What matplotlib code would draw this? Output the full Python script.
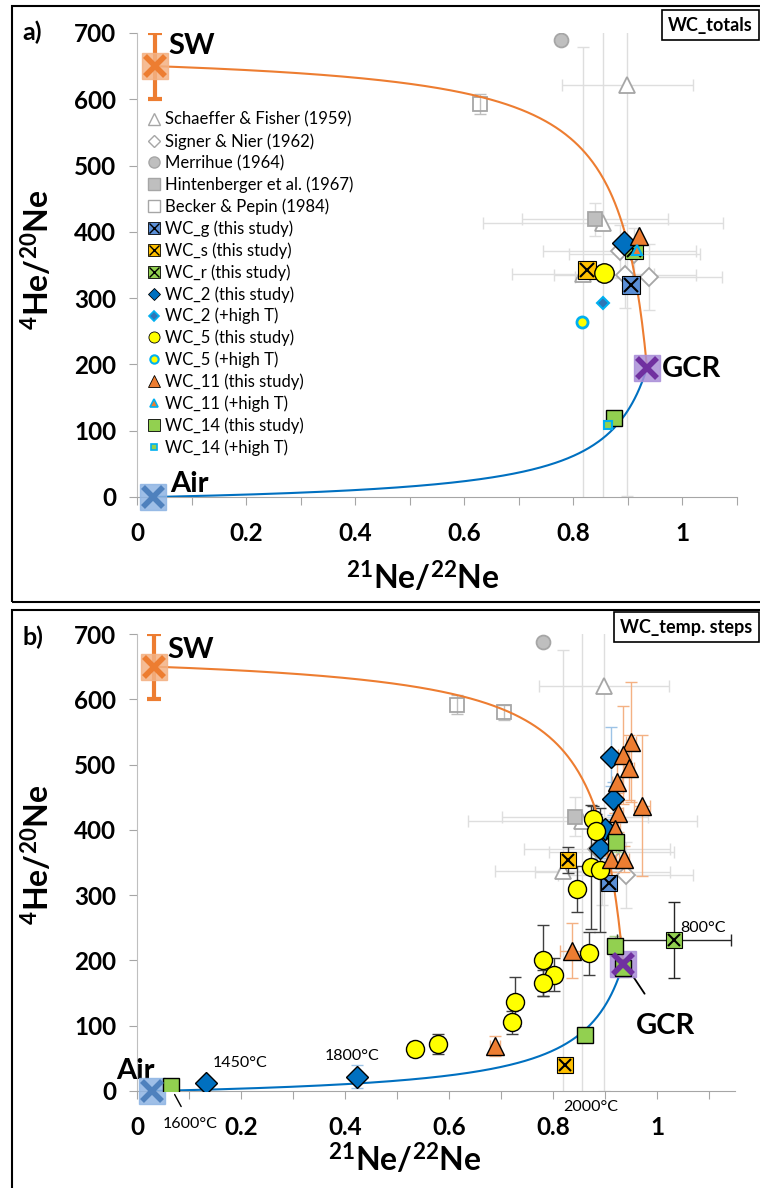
import numpy as np
import matplotlib.pyplot as plt
from matplotlib.lines import Line2D
from matplotlib.patches import Rectangle

plt.rcParams['font.family'] = ['Lato', 'DejaVu Sans']
plt.rcParams['mathtext.fontset'] = 'custom'
plt.rcParams['mathtext.rm'] = 'Lato:bold'
plt.rcParams['mathtext.bf'] = 'Lato:bold'
plt.rcParams['mathtext.default'] = 'rm'

# endmembers: 21Ne/22Ne, 4He/20Ne, 20Ne/22Ne
sw = [0.033, 650, 13.8]
air = [0.029, 0, 9.8]
gcr = [0.935, 195, 0.8]
sw_err = 50

# ---- panel a: totals ----
# literature
a_sf_x, a_sf_y = [0.899, 0.855, 0.817], [621, 413, 336]
a_sf_xe, a_sf_ye = [0.12, 0.22, 0.13], [620, 420, 343]
a_sn_x, a_sn_y = [0.885, 0.912, 0.895, 0.938], [371, 366, 335, 332]
a_sn_xe, a_sn_ye = [0.14, 0.12, 0.13, 0.135], [40, 40, 50, 50]
a_me_x, a_me_y = [0.778], [689]
a_hi_x, a_hi_y = [0.840], [419]
a_hi_xe, a_hi_ye = [0.134], [25]
a_bp_x, a_bp_y = [0.629], [593]
a_bp_ye = [15]
# this study
a_wcg = ([0.906], [320])
a_wcs = ([0.825], [342])
a_wcr = ([0.912], [372])
a_wc2 = ([0.892], [383])
a_wc2h = ([0.855], [293])
a_wc5 = ([0.856], [338])
a_wc5h = ([0.815], [264])
a_wc11 = ([0.921], [393])
a_wc11h = ([0.916], [372])
a_wc14 = ([0.875], [119])
a_wc14h = ([0.864], [109])

# ---- panel b: temperature steps ----
b_sf_x, b_sf_y = [0.898, 0.856, 0.819], [620, 414, 337]
b_sf_xe, b_sf_ye = [0.125, 0.22, 0.13], [620, 420, 338]
b_sn_x, b_sn_y = [0.885, 0.912, 0.895, 0.940], [371, 366, 335, 331]
b_sn_xe, b_sn_ye = [0.14, 0.12, 0.13, 0.13], [40, 40, 50, 50]
b_me_x, b_me_y = [0.781], [688]
b_hi_x, b_hi_y = [0.842], [420]
b_hi_xe, b_hi_ye = [0.14], [30]
b_bp_x, b_bp_y = [0.615, 0.706], [592, 580]
b_bp_ye = [15, 12]

b_wcg_x, b_wcg_y = [0.908], [318]
b_wcs_x, b_wcs_y = [0.829, 0.823], [354, 40]
b_wcs_ye = [20, 8]
b_wcr_x, b_wcr_y = [1.033], [231]
b_wcr_xe, b_wcr_ye = [0.11], [58]
b_wc2_x = [0.911, 0.916, 0.900, 0.890, 0.133, 0.423]
b_wc2_y = [512, 448, 401, 372, 12, 22]
b_wc2_ye = [45, 25, 15, 15, 5, 18]
b_wc5_x = [0.877, 0.883, 0.873, 0.891, 0.846, 0.869, 0.781, 0.802, 0.781, 0.727, 0.721, 0.535, 0.579]
b_wc5_y = [417, 399, 343, 339, 309, 211, 200, 178, 166, 137, 105, 65, 72]
b_wc5_ye = [20, 25, 95, 95, 35, 33, 54, 25, 20, 38, 18, 10, 15]
b_wc11_x = [0.950, 0.935, 0.946, 0.923, 0.971, 0.925, 0.919, 0.911, 0.937, 0.837, 0.688]
b_wc11_y = [534, 514, 495, 473, 437, 426, 401, 356, 356, 215, 69]
b_wc11_ye = [92, 75, 50, 40, 108, 30, 25, 20, 20, 42, 15]
b_wc11_xe = [0.01, 0.01, 0.01, 0.01, 0.015, 0.01, 0.01, 0.01, 0.01, 0.024, 0.01]
b_wc14_x = [0.921, 0.919, 0.935, 0.862, 0.065]
b_wc14_y = [381, 222, 189, 86, 8]
b_wc14_ye = [15, 15, 15, 8, 4]

step_labels = ['1450°C', '1800°C', '1600°C', '2000°C', '800°C']

legend_labels = ['Schaeffer & Fisher (1959)', 'Signer & Nier (1962)', 'Merrihue (1964)',
                 'Hintenberger et al. (1967)', 'Becker & Pepin (1984)',
                 'WC_g (this study)', 'WC_s (this study)', 'WC_r (this study)',
                 'WC_2 (this study)', 'WC_2 (+high T)', 'WC_5 (this study)', 'WC_5 (+high T)',
                 'WC_11 (this study)', 'WC_11 (+high T)', 'WC_14 (this study)', 'WC_14 (+high T)']

C_BLUE = '#5B8FD6'
C_GOLD = '#FFC000'
C_GREEN = '#92D050'
C_DBLUE = '#0070C0'
C_CYAN = '#00B0F0'
C_ORANGE = '#ED7D31'
C_LGREY = '#DEDEDE'
C_GREY = '#A6A6A6'


def mixing(a, b):
    # two-component mixing hyperbola
    f = np.linspace(0, 1, 400)
    x = f * a[0] + (1 - f) * b[0]
    y = (f * a[2] * a[1] + (1 - f) * b[2] * b[1]) / (f * a[2] + (1 - f) * b[2])
    return x, y


def xsq(ax, x, y, color, ms=12, mew=1.5, z=5):
    ax.plot(x, y, 's', ms=ms, mfc=color, mec='black', mew=0.8, zorder=z, ls='none')
    ax.plot(x, y, 'x', ms=ms * 0.8, mec='black', mew=mew, zorder=z + 0.1, ls='none')


def endmembers(ax):
    ax.errorbar([sw[0]], [sw[1]], yerr=sw_err, fmt='none', ecolor=C_ORANGE, elinewidth=3,
                capsize=5, capthick=3, zorder=6)
    for p, fc, xc in [(sw, '#F4B183', C_ORANGE), (air, '#8EB4E3', '#4F81BD'),
                      (gcr, '#A98ED8', '#7030A0')]:
        ax.plot(p[0], p[1], 's', ms=19, mfc=fc, mec=fc, alpha=0.85, zorder=7, clip_on=False)
        ax.plot(p[0], p[1], 'x', ms=15, mec=xc, mew=4, zorder=8, clip_on=False)
    xo, yo = mixing(sw, gcr)
    ax.plot(xo, yo, color=C_ORANGE, lw=1.5, zorder=4)
    xb, yb = mixing(air, gcr)
    ax.plot(xb, yb, color=C_DBLUE, lw=1.5, zorder=4)


def literature(ax, sf, sn, me, hi, bp):
    eb = dict(fmt='none', ecolor=C_LGREY, elinewidth=1, capsize=4, zorder=1)
    ax.errorbar(sf[0], sf[1], xerr=sf[2], yerr=sf[3], **eb)
    ax.errorbar(sn[0], sn[1], xerr=sn[2], yerr=sn[3], **eb)
    ax.errorbar(hi[0], hi[1], xerr=hi[2], yerr=hi[3], **eb)
    ax.errorbar(bp[0], bp[1], yerr=bp[2], **dict(eb, ecolor='#BFBFBF'))
    ax.plot(sf[0], sf[1], '^', ms=11, mfc='white', mec=C_GREY, mew=1.3, ls='none', zorder=2)
    ax.plot(sn[0], sn[1], 'D', ms=9, mfc='white', mec=C_GREY, mew=1.3, ls='none', zorder=2)
    ax.plot(me[0], me[1], 'o', ms=10, mfc='#BFBFBF', mec=C_GREY, mew=1.3, ls='none', zorder=2)
    ax.plot(hi[0], hi[1], 's', ms=10, mfc='#BFBFBF', mec=C_GREY, mew=1.3, ls='none', zorder=2)
    ax.plot(bp[0], bp[1], 's', ms=10, mfc='none', mec=C_GREY, mew=1.3, ls='none', zorder=2)


def style_axes(ax, xmax, xlab_pos, ylab_pos):
    ax.set_xlim(0, xmax)
    ax.set_ylim(0, 700)
    for s in ['top', 'right']:
        ax.spines[s].set_visible(False)
    ax.spines['left'].set_color('#BFBFBF')
    ax.spines['bottom'].set_color(C_GREY)
    ax.set_yticks(np.arange(0, 701, 100))
    xt = np.round(np.arange(0, 1.11, 0.1), 1)
    ax.set_xticks(xt)
    ax.set_xticklabels(['0' if v == 0 else ('1' if v == 1 else ('%.1f' % v if round(v * 10) % 2 == 0 else ''))
                        for v in xt])
    ax.tick_params(axis='both', colors=C_GREY, labelcolor='black', labelsize=17.5, length=6)
    ax.tick_params(axis='y', pad=9)
    ax.tick_params(axis='x', pad=12)
    for lab in ax.get_xticklabels() + ax.get_yticklabels():
        lab.set_fontweight('bold')
    ax.set_xlabel('$^{21}$Ne/$^{22}$Ne', fontsize=23, fontweight='bold')
    ax.set_ylabel('$^{4}$He/$^{20}$Ne', fontsize=23, fontweight='bold')
    ax.xaxis.set_label_coords(*xlab_pos)
    ax.yaxis.set_label_coords(*ylab_pos)


fig = plt.figure(figsize=(7.6, 11.88), dpi=100)
W, H = 760, 1188

# panel frames
fig.patches.append(Rectangle((12 / W, 1 - 602 / H), 1.0, 596 / H, transform=fig.transFigure,
                             fill=False, ec='black', lw=1.5))
fig.patches.append(Rectangle((12 / W, -0.05), 1.0, 1 - 610 / H + 0.05, transform=fig.transFigure,
                             fill=False, ec='black', lw=1.5))

# ---------------- panel a ----------------
ax1 = fig.add_axes([137 / W, 1 - 497 / H, 600 / W, 464 / H])
style_axes(ax1, 1.1, (0.477, -0.135), (-0.137, 0.511))
literature(ax1, (a_sf_x, a_sf_y, a_sf_xe, a_sf_ye), (a_sn_x, a_sn_y, a_sn_xe, a_sn_ye),
           (a_me_x, a_me_y), (a_hi_x, a_hi_y, a_hi_xe, a_hi_ye), (a_bp_x, a_bp_y, a_bp_ye))
endmembers(ax1)
xsq(ax1, *a_wcg, C_BLUE, ms=13)
xsq(ax1, *a_wcs, C_GOLD, ms=13)
xsq(ax1, *a_wcr, C_GREEN, ms=13)
ax1.plot(*a_wc2, 'D', ms=12, mfc=C_DBLUE, mec='black', mew=1, zorder=6)
ax1.plot(*a_wc2h, 'D', ms=6, mfc='#2E75B6', mec=C_CYAN, mew=1.5, zorder=6)
ax1.plot(*a_wc5, 'o', ms=14, mfc='#FFFF00', mec='black', mew=1, zorder=6)
ax1.plot(*a_wc5h, 'o', ms=8, mfc='#FFFF00', mec=C_CYAN, mew=2, zorder=6)
ax1.plot(*a_wc11, '^', ms=13, mfc=C_ORANGE, mec='black', mew=1, zorder=6)
ax1.plot(*a_wc11h, '^', ms=7, mfc=C_ORANGE, mec=C_CYAN, mew=1.5, zorder=7)
ax1.plot(*a_wc14, 's', ms=12, mfc=C_GREEN, mec='black', mew=1, zorder=6)
ax1.plot(*a_wc14h, 's', ms=6, mfc=C_GREEN, mec=C_CYAN, mew=1.5, zorder=7)

ax1.text(0.058, 680, 'SW', fontsize=21, fontweight='bold', va='center')
ax1.text(0.060, 20, 'Air', fontsize=21, fontweight='bold', va='center')
ax1.text(0.963, 193, 'GCR', fontsize=21, fontweight='bold', va='center')

handles = [
    Line2D([], [], ls='none', marker='^', ms=8, mfc='white', mec=C_GREY),
    Line2D([], [], ls='none', marker='D', ms=6, mfc='white', mec=C_GREY),
    Line2D([], [], ls='none', marker='o', ms=8, mfc='#BFBFBF', mec=C_GREY),
    Line2D([], [], ls='none', marker='s', ms=8, mfc='#BFBFBF', mec=C_GREY),
    Line2D([], [], ls='none', marker='s', ms=8, mfc='white', mec=C_GREY),
]
for c in [C_BLUE, C_GOLD, C_GREEN]:
    handles.append((Line2D([], [], ls='none', marker='s', ms=8, mfc=c, mec='black', mew=0.6),
                    Line2D([], [], ls='none', marker='x', ms=7, mec='black', mew=1)))
handles += [
    Line2D([], [], ls='none', marker='D', ms=6, mfc=C_DBLUE, mec='black', mew=0.6),
    Line2D([], [], ls='none', marker='D', ms=5, mfc='#2E75B6', mec=C_CYAN, mew=1.2),
    Line2D([], [], ls='none', marker='o', ms=8, mfc='#FFFF00', mec='black', mew=0.6),
    Line2D([], [], ls='none', marker='o', ms=6, mfc='#FFFF00', mec=C_CYAN, mew=1.5),
    Line2D([], [], ls='none', marker='^', ms=8, mfc=C_ORANGE, mec='black', mew=0.6),
    Line2D([], [], ls='none', marker='^', ms=6, mfc=C_ORANGE, mec=C_CYAN, mew=1.2),
    Line2D([], [], ls='none', marker='s', ms=8, mfc=C_GREEN, mec='black', mew=0.6),
    Line2D([], [], ls='none', marker='s', ms=5, mfc=C_GREEN, mec=C_CYAN, mew=1.2),
]
ax1.legend(handles, legend_labels, loc='upper left', bbox_to_anchor=(0.0, 0.852), frameon=False,
           fontsize=12, handlelength=0.8, handletextpad=0.3, labelspacing=0.32,
           borderaxespad=0.2)

fig.text(668 / W, 1 - 25 / H, 'WC_totals', fontsize=13, fontweight='bold', va='center',
         bbox=dict(boxstyle='square,pad=0.35', fc='white', ec='black', lw=1.2))
fig.text(22 / W, 1 - 32 / H, 'a)', fontsize=18, fontweight='bold', va='center')

# ---------------- panel b ----------------
ax2 = fig.add_axes([137 / W, 1 - 1091 / H, 598 / W, 457 / H])
style_axes(ax2, 1.15, (0.448, -0.11), (-0.137, 0.516))
literature(ax2, (b_sf_x, b_sf_y, b_sf_xe, b_sf_ye), (b_sn_x, b_sn_y, b_sn_xe, b_sn_ye),
           (b_me_x, b_me_y), (b_hi_x, b_hi_y, b_hi_xe, b_hi_ye), (b_bp_x, b_bp_y, b_bp_ye))
endmembers(ax2)

ax2.errorbar(b_wc11_x, b_wc11_y, xerr=b_wc11_xe, yerr=b_wc11_ye, fmt='none', ecolor='#F4B183',
             elinewidth=1, capsize=4, zorder=3)
ax2.errorbar(b_wc2_x, b_wc2_y, yerr=b_wc2_ye, fmt='none', ecolor='#9DC3E6', elinewidth=1,
             capsize=4, zorder=3)
ax2.errorbar(b_wc5_x, b_wc5_y, yerr=b_wc5_ye, fmt='none', ecolor='#404040', elinewidth=1,
             capsize=4, zorder=3)
ax2.errorbar(b_wc14_x, b_wc14_y, yerr=b_wc14_ye, fmt='none', ecolor='#A9D18E', elinewidth=1,
             capsize=4, zorder=3)
ax2.errorbar(b_wcs_x, b_wcs_y, yerr=b_wcs_ye, fmt='none', ecolor='#404040', elinewidth=1,
             capsize=4, zorder=3)
ax2.errorbar(b_wcr_x, b_wcr_y, xerr=b_wcr_xe, yerr=b_wcr_ye, fmt='none', ecolor='#262626',
             elinewidth=1, capsize=4, zorder=3)

xsq(ax2, b_wcg_x, b_wcg_y, C_BLUE, ms=12)
xsq(ax2, b_wcs_x, b_wcs_y, C_GOLD, ms=11)
xsq(ax2, b_wcr_x, b_wcr_y, C_GREEN, ms=11)
ax2.plot(b_wc2_x, b_wc2_y, 'D', ms=11, mfc=C_DBLUE, mec='black', mew=1, ls='none', zorder=6)
ax2.plot(b_wc5_x, b_wc5_y, 'o', ms=13, mfc='#FFFF00', mec='black', mew=1, ls='none', zorder=6)
ax2.plot(b_wc11_x, b_wc11_y, '^', ms=13, mfc=C_ORANGE, mec='black', mew=1, ls='none', zorder=6)
ax2.plot(b_wc14_x, b_wc14_y, 's', ms=11, mfc=C_GREEN, mec='black', mew=1, ls='none', zorder=7)

ax2.text(0.058, 675, 'SW', fontsize=21, fontweight='bold', va='center')
ax2.text(-0.04, 30, 'Air', fontsize=21, fontweight='bold', va='center')
ax2.annotate('GCR', xy=(0.952, 178), xytext=(1.017, 100), fontsize=21, fontweight='bold',
             ha='center', va='center',
             arrowprops=dict(arrowstyle='-', color='black', lw=1.3, shrinkA=14, shrinkB=2))
ax2.text(0.145, 37, step_labels[0], fontsize=11.5)
ax2.text(0.413, 47, step_labels[1], fontsize=11.5, ha='center')
ax2.annotate(step_labels[2], xy=(0.066, 4), xytext=(0.05, -50), fontsize=11.5, va='center',
             ha='left', annotation_clip=False,
             arrowprops=dict(arrowstyle='-', color='black', lw=1, shrinkA=6, shrinkB=5))
ax2.text(0.82, -25, step_labels[3], fontsize=11.5, va='center')
ax2.text(1.045, 249, step_labels[4], fontsize=11.5, va='center')

fig.text(620 / W, 1 - 627 / H, 'WC_temp. steps', fontsize=13, fontweight='bold', va='center',
         bbox=dict(boxstyle='square,pad=0.35', fc='white', ec='black', lw=1.2))
fig.text(22 / W, 1 - 637 / H, 'b)', fontsize=18, fontweight='bold', va='center')

fig.savefig('out.png', dpi=100)
